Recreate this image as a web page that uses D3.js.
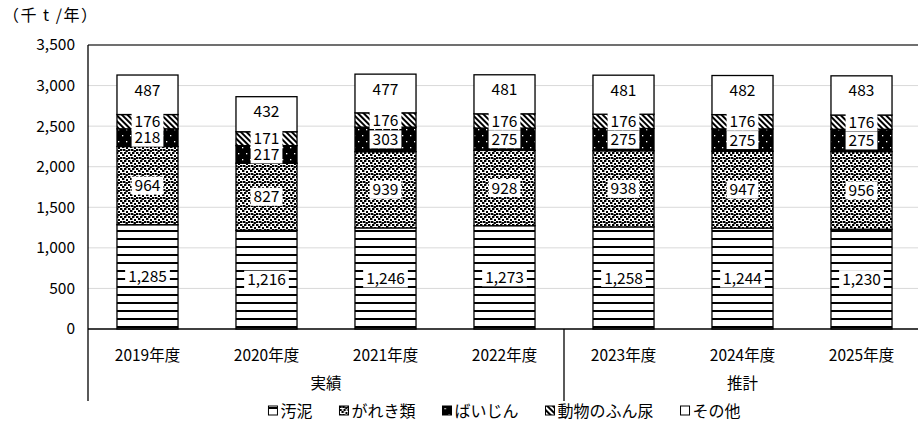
<!DOCTYPE html>
<html><head><meta charset="utf-8">
<script src="https://cdn.jsdelivr.net/npm/d3@7"></script>
<style>
html,body{margin:0;padding:0;background:#fff;}
svg{display:block;font-family:"Noto Sans CJK JP","Noto Sans",sans-serif;}
</style></head>
<body>
<svg id="chart" width="918" height="423"></svg>
<script>
const years = ["2019年度","2020年度","2021年度","2022年度","2023年度","2024年度","2025年度"];
const groups = [{name:"実績", from:0, to:3},{name:"推計", from:4, to:6}];
const seriesNames = ["汚泥","がれき類","ばいじん","動物のふん尿","その他"];
const sludge = [1285,1216,1246,1273,1258,1244,1230];
const debris = [964,827,939,928,938,947,956];
const dust = [218,217,303,275,275,275,275];
const manure = [176,171,176,176,176,176,176];
const other = [487,432,477,481,481,482,483];
const yTicks = [0,500,1000,1500,2000,2500,3000,3500];
const unitLabel = "（千 t /年）";

const seriesValues = [sludge, debris, dust, manure, other];
const patternIds = ["pHoriz","pConfetti","pDust","pDiag","pWhite"];

const svg = d3.select("#chart");
const M = {l:88, r:921, t:45, b:329};
const FS = 15.5;

// patterns
const defs = svg.append("defs");
{
  const p = defs.append("pattern").attr("id","pHoriz").attr("patternUnits","userSpaceOnUse")
    .attr("width",8).attr("height",8);
  p.append("rect").attr("width",8).attr("height",8).attr("fill","#fff");
  p.append("rect").attr("y",6).attr("width",8).attr("height",2).attr("fill","#000");
}
{
  const p = defs.append("pattern").attr("id","pConfetti").attr("patternUnits","userSpaceOnUse")
    .attr("width",8).attr("height",8);
  p.append("rect").attr("width",8).attr("height",8).attr("fill","#fff");
  const sq = [[0,0],[4,0],[2,2],[6,3],[0,5],[3,5],[5.5,6]];
  sq.forEach(([x,y])=>p.append("rect").attr("x",x).attr("y",y).attr("width",2.4).attr("height",2).attr("fill","#000"));
}
{
  const p = defs.append("pattern").attr("id","pDust").attr("patternUnits","userSpaceOnUse")
    .attr("width",8).attr("height",12);
  p.append("rect").attr("width",8).attr("height",12).attr("fill","#000");
  p.append("rect").attr("x",2).attr("y",3).attr("width",1.3).attr("height",1.3).attr("fill","#fff");
  p.append("rect").attr("x",6).attr("y",9).attr("width",1.3).attr("height",1.3).attr("fill","#fff");
}
{
  const p = defs.append("pattern").attr("id","pDiag").attr("patternUnits","userSpaceOnUse")
    .attr("width",4).attr("height",4).attr("patternTransform","rotate(-45)");
  p.append("rect").attr("width",4).attr("height",4).attr("fill","#fff");
  p.append("rect").attr("width",2).attr("height",4).attr("fill","#000");
}
{
  const p = defs.append("pattern").attr("id","pWhite").attr("patternUnits","userSpaceOnUse")
    .attr("width",4).attr("height",4);
  p.append("rect").attr("width",4).attr("height",4).attr("fill","#fff");
}

const x = d3.scaleBand().domain(years).range([M.l,M.r]).paddingInner(0.487).paddingOuter(0.2435);
const y = d3.scaleLinear().domain([0,3500]).range([M.b,M.t]);

// gridlines
svg.append("g").selectAll("line").data(yTicks.filter(t=>t>0 && t<3500)).join("line")
  .attr("x1",M.l).attr("x2",M.r).attr("y1",d=>y(d)).attr("y2",d=>y(d))
  .attr("stroke","#d9d9d9").attr("stroke-width",1);

// plot top border
svg.append("line").attr("x1",M.l).attr("x2",M.r).attr("y1",M.t).attr("y2",M.t)
  .attr("stroke","#404040").attr("stroke-width",1.5);

// y axis labels
const yAxis = d3.axisLeft(y).tickValues(yTicks).tickSize(0).tickPadding(13).tickFormat(d3.format(","));
const ya = svg.append("g").attr("transform",`translate(${M.l},0)`).call(yAxis);
ya.select(".domain").remove();
ya.selectAll("text").attr("font-size",FS).attr("fill","#000").attr("font-family",'"Noto Sans CJK JP",sans-serif');

// stacked data
const table = years.map((yr,i)=>{const o={year:yr}; seriesNames.forEach((s,j)=>o[s]=seriesValues[j][i]); return o;});
const stack = d3.stack().keys(seriesNames)(table);

const barG = svg.append("g");
stack.forEach((layer,j)=>{
  barG.append("g").selectAll("rect").data(layer).join("rect")
    .attr("x",d=>x(d.data.year)).attr("width",x.bandwidth())
    .attr("y",d=>y(d[1])).attr("height",d=>y(d[0])-y(d[1]))
    .attr("fill",`url(#${patternIds[j]})`).attr("stroke","#000").attr("stroke-width",1.3);
});

// labels
const fmt = d3.format(",");
const labG = svg.append("g");
stack.forEach((layer,j)=>{
  layer.forEach(d=>{
    const cx = x(d.data.year)+x.bandwidth()/2;
    let cy = (y(d[0])+y(d[1]))/2;
    if (j===4) cy = y(d[1]) + 15;
    const g = labG.append("g");
    const t = g.append("text").attr("x",cx).attr("y",cy).attr("dy","0.36em")
      .attr("text-anchor","middle").attr("font-size",FS).attr("fill","#000")
      .text(fmt(d[1]-d[0]));
    const w = t.node().getComputedTextLength();
    if (j!==4) {
      g.insert("rect","text").attr("x",cx-w/2-3).attr("y",cy-9).attr("width",w+6).attr("height",18).attr("fill","#fff");
    }
  });
});

// x axis line
svg.append("line").attr("x1",M.l).attr("x2",M.r).attr("y1",M.b).attr("y2",M.b)
  .attr("stroke","#000").attr("stroke-width",1.3);
// left axis line extended
svg.append("line").attr("x1",M.l).attr("x2",M.l).attr("y1",M.t).attr("y2",401)
  .attr("stroke","#000").attr("stroke-width",1.3);

// category labels
const xa = svg.append("g").attr("transform",`translate(0,${M.b})`)
  .call(d3.axisBottom(x).tickSize(0).tickPadding(21));
xa.select(".domain").remove();
xa.selectAll("text").attr("font-size",FS).attr("fill","#000").attr("font-family",'"Noto Sans CJK JP",sans-serif');

// group labels and separators
const step = x.step();
groups.forEach((g,i)=>{
  const x0 = x(years[g.from]) - (step - x.bandwidth())/2;
  const x1 = x(years[g.to]) + x.bandwidth() + (step - x.bandwidth())/2;
  svg.append("text").attr("x",(x0+x1)/2).attr("y",389).attr("text-anchor","middle")
    .attr("font-size",FS).attr("fill","#000").text(g.name);
  if (i>0) svg.append("line").attr("x1",x0).attr("x2",x0).attr("y1",M.b).attr("y2",401)
    .attr("stroke","#000").attr("stroke-width",1.3);
});

// unit label
svg.append("text").attr("x",3).attr("y",21).attr("font-size",16).attr("letter-spacing",1.5)
  .attr("fill","#000").text(unitLabel);

// legend
const legG = svg.append("g");
let lx = 0;
const GAP = 27;
seriesNames.forEach((s,j)=>{
  const g = legG.append("g").attr("transform",`translate(${lx},0)`);
  g.append("rect").attr("x",0).attr("y",-11).attr("width",9).attr("height",9)
    .attr("fill",`url(#${patternIds[j]})`).attr("stroke","#000").attr("stroke-width",1);
  const t = g.append("text").attr("x",12).attr("y",0).attr("font-size",16).attr("fill","#000").text(s);
  const w = t.node().getComputedTextLength();
  lx += 12 + w + GAP;
});
const totalW = lx - GAP;
legG.attr("transform",`translate(${(M.l+M.r)/2 - totalW/2},417)`);
</script>
</body></html>
